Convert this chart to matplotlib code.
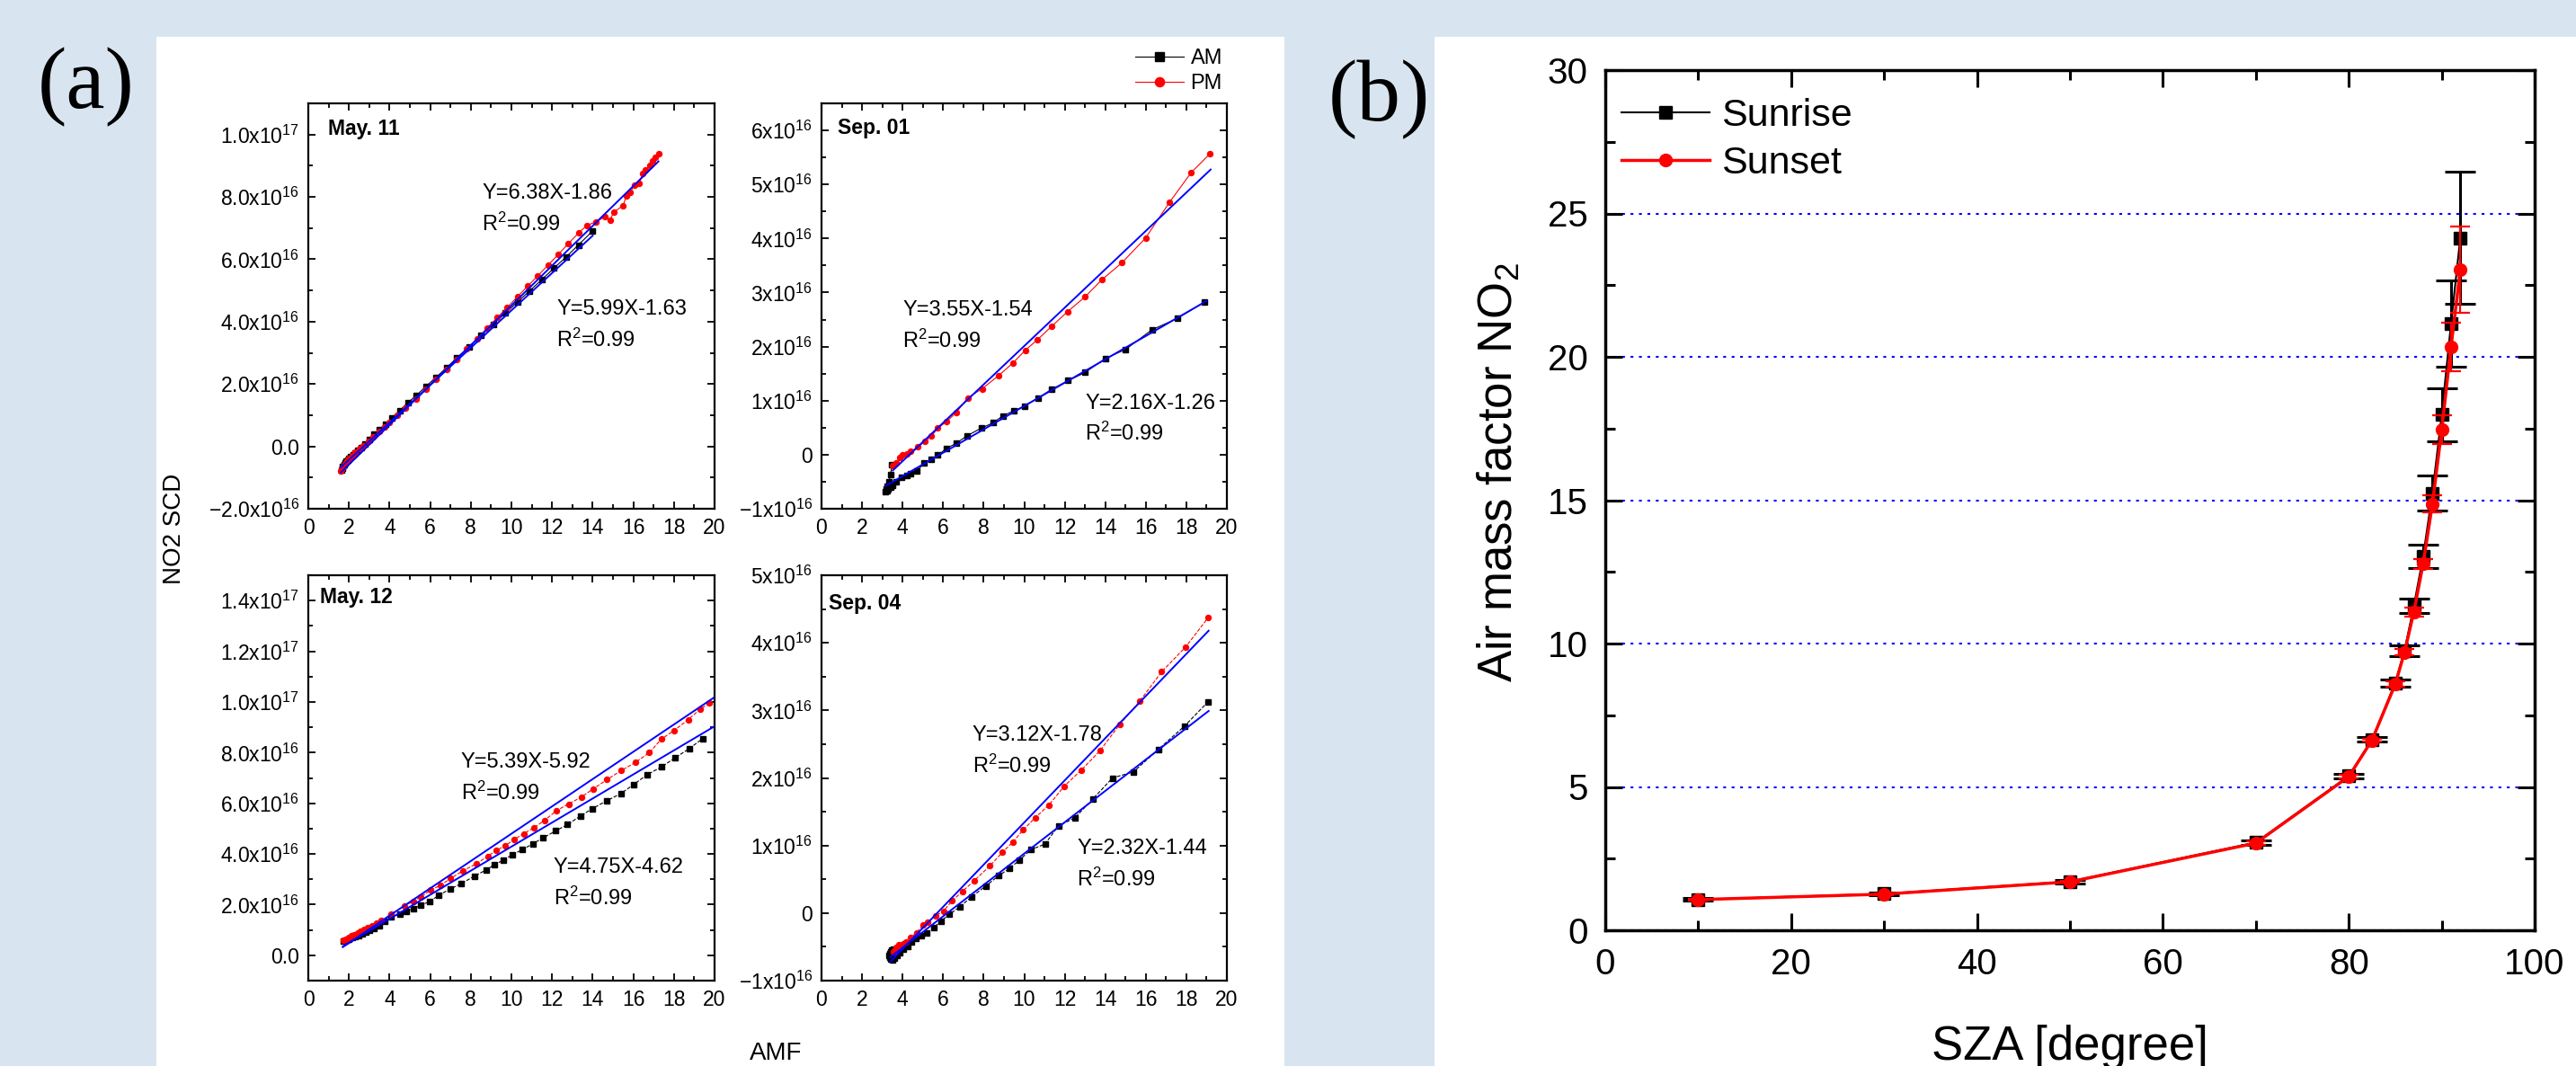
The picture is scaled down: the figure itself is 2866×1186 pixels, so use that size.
import numpy as np
import matplotlib.pyplot as plt
from matplotlib.ticker import MultipleLocator, FuncFormatter
from matplotlib.patches import Rectangle

plt.rcParams['font.family'] = ['Liberation Sans', 'DejaVu Sans']
plt.rcParams['mathtext.fontset'] = 'custom'
plt.rcParams['mathtext.rm'] = 'Liberation Sans'
plt.rcParams['mathtext.it'] = 'Liberation Sans:italic'
plt.rcParams['mathtext.bf'] = 'Liberation Sans:bold'

# ---- (a) NO2 SCD vs AMF, slant columns in units of 1e16 molec/cm2 ----
am_x_may11 = [1.62, 1.66, 1.70, 1.75, 1.80, 1.86, 1.93, 2.00, 2.10, 2.20, 2.32, 2.45, 2.60,
              2.80, 3.00, 3.25, 3.50, 3.80, 4.10, 4.50, 4.90, 5.30, 5.80, 6.30, 6.80, 7.30,
              7.90, 8.50, 9.10, 9.70, 10.30, 10.90, 11.50, 12.10, 12.70, 13.30, 14.00]
am_y_may11 = [-0.76, -0.70, -0.64, -0.58, -0.53, -0.48, -0.43, -0.38, -0.32, -0.26, -0.20,
              -0.13, -0.05, 0.07, 0.22, 0.38, 0.55, 0.72, 0.91, 1.15, 1.40, 1.62, 1.93, 2.22,
              2.52, 2.83, 3.19, 3.55, 3.91, 4.27, 4.63, 4.99, 5.35, 5.72, 6.08, 6.46, 6.91]
pm_x_may11 = [1.60, 1.65, 1.72, 1.80, 1.90, 2.00, 2.15, 2.30, 2.50, 2.70, 2.95, 3.20, 3.50,
              3.75, 4.00, 4.40, 4.80, 5.30, 5.80, 6.30, 6.80, 7.30, 7.80, 8.30, 8.80, 9.30,
              9.80, 10.30, 10.80, 11.30, 11.80, 12.30, 12.80, 13.30, 13.70, 14.15, 14.60,
              14.85, 15.05, 15.50, 15.65, 15.85, 16.05, 16.30, 16.45, 16.60, 16.80, 16.95,
              17.10, 17.24]
pm_y_may11 = [-0.80, -0.72, -0.64, -0.56, -0.47, -0.39, -0.29, -0.19, -0.08, 0.02, 0.17,
              0.32, 0.48, 0.62, 0.76, 1.00, 1.24, 1.52, 1.84, 2.14, 2.46, 2.79, 3.12, 3.45,
              3.79, 4.13, 4.46, 4.80, 5.14, 5.47, 5.81, 6.15, 6.50, 6.84, 7.08, 7.20, 7.36,
              7.26, 7.52, 7.72, 8.02, 8.14, 8.38, 8.44, 8.75, 8.88, 9.00, 9.16, 9.28, 9.38]

am_x_sep01 = [3.47, 3.41, 3.32, 3.24, 3.18, 3.16, 3.22, 3.30, 3.40, 3.52, 3.70, 3.96, 4.20,
              4.41, 4.70, 5.07, 5.41, 5.74, 6.18, 6.65, 7.18, 7.88, 8.47, 8.95, 9.48, 10.02,
              10.69, 11.35, 12.17, 13.00, 14.00, 15.01, 16.30, 17.55, 18.87]
am_y_sep01 = [-0.19, -0.37, -0.50, -0.58, -0.64, -0.68, -0.66, -0.63, -0.60, -0.56, -0.50,
              -0.42, -0.38, -0.35, -0.30, -0.16, -0.09, -0.01, 0.12, 0.21, 0.35, 0.49, 0.59,
              0.72, 0.81, 0.90, 1.05, 1.21, 1.37, 1.52, 1.78, 1.95, 2.31, 2.52, 2.82]
pm_x_sep01 = [3.52, 3.69, 3.84, 4.00, 4.21, 4.40, 4.74, 5.10, 5.41, 5.74, 6.16, 6.65, 7.21,
              7.92, 8.73, 9.45, 10.05, 10.66, 11.34, 12.15, 13.00, 13.84, 14.82, 15.99,
              17.17, 18.24, 19.17]
pm_y_sep01 = [-0.20, -0.16, -0.06, 0.00, 0.02, 0.06, 0.14, 0.24, 0.34, 0.49, 0.61, 0.78,
              1.05, 1.22, 1.46, 1.70, 1.93, 2.13, 2.37, 2.65, 2.92, 3.24, 3.55, 4.01, 4.67,
              5.22, 5.57]

am_x_may12 = [1.73, 1.85, 2.00, 2.15, 2.30, 2.49, 2.65, 2.83, 3.00, 3.25, 3.50, 3.78, 4.06,
              4.52, 4.81, 5.18, 5.53, 5.99, 6.43, 6.97, 7.53, 8.19, 8.78, 9.17, 9.59, 10.05,
              10.54, 11.07, 11.57, 12.18, 12.76, 13.40, 13.99, 14.67, 15.38, 16.02, 16.70,
              17.38, 18.05, 18.76, 19.41]
am_y_may12 = [0.57, 0.60, 0.64, 0.69, 0.73, 0.79, 0.84, 0.91, 0.97, 1.07, 1.18, 1.33, 1.51,
              1.62, 1.74, 1.84, 1.97, 2.13, 2.37, 2.61, 2.83, 3.13, 3.38, 3.58, 3.75, 3.97,
              4.17, 4.41, 4.64, 4.91, 5.16, 5.50, 5.79, 6.09, 6.38, 6.74, 7.14, 7.43, 7.79,
              8.16, 8.55]
pm_x_may12 = [1.73, 1.85, 1.98, 2.12, 2.27, 2.42, 2.58, 2.75, 2.93, 3.12, 3.35, 3.59, 4.06,
              4.74, 5.16, 5.53, 6.01, 6.50, 7.00, 7.60, 8.29, 8.83, 9.26, 9.68, 10.14, 10.60,
              11.12, 11.62, 12.22, 12.81, 13.43, 14.03, 14.70, 15.40, 16.10, 16.79, 17.38,
              18.02, 18.70, 19.27, 19.75]
pm_y_may12 = [0.59, 0.64, 0.70, 0.76, 0.82, 0.88, 0.95, 1.02, 1.09, 1.17, 1.26, 1.36, 1.62,
              1.95, 2.13, 2.30, 2.57, 2.76, 3.03, 3.33, 3.62, 3.91, 4.14, 4.32, 4.57, 4.80,
              5.04, 5.32, 5.71, 5.97, 6.24, 6.57, 6.93, 7.29, 7.61, 8.00, 8.53, 8.88, 9.30,
              9.70, 9.96]

am_x_sep04 = [3.56, 3.48, 3.40, 3.35, 3.33, 3.36, 3.42, 3.50, 3.60, 3.72, 3.86, 4.05, 4.25,
              4.44, 4.66, 4.92, 5.20, 5.54, 5.88, 6.31, 6.81, 7.41, 8.10, 8.73, 9.27, 9.75,
              10.34, 11.02, 11.69, 12.50, 13.39, 14.36, 15.39, 16.61, 17.92, 19.08]
am_y_sep04 = [-0.53, -0.55, -0.57, -0.60, -0.63, -0.66, -0.68, -0.69, -0.67, -0.63, -0.59,
              -0.54, -0.49, -0.43, -0.38, -0.33, -0.29, -0.22, -0.12, -0.02, 0.09, 0.24,
              0.40, 0.55, 0.66, 0.78, 0.94, 1.02, 1.29, 1.41, 1.69, 2.00, 2.09, 2.42, 2.77,
              3.13]
pm_x_sep04 = [3.55, 3.60, 3.68, 3.81, 4.02, 4.19, 4.41, 4.69, 5.00, 5.25, 5.63, 6.02, 6.44,
              6.95, 7.54, 8.31, 8.93, 9.44, 9.95, 10.54, 11.22, 11.98, 12.80, 13.73, 14.71,
              15.71, 16.78, 17.97, 19.07]
pm_y_sep04 = [-0.58, -0.56, -0.51, -0.47, -0.45, -0.43, -0.36, -0.29, -0.18, -0.13, -0.04,
              0.03, 0.18, 0.32, 0.48, 0.70, 0.90, 1.05, 1.23, 1.41, 1.60, 1.88, 2.11, 2.40,
              2.79, 3.14, 3.57, 3.94, 4.37]

# linear fits Y = slope*X + intercept (absolute units) and the AMF range they cover
day_names = ['May. 11', 'Sep. 01', 'May. 12', 'Sep. 04']
am_slope = [5.99e15, 2.16e15, 4.75e15, 2.32e15]
am_icept = [-1.63e16, -1.26e16, -4.62e15, -1.44e16]
am_range = [(1.60, 14.0), (3.16, 19.0), (1.70, 20.0), (3.40, 19.1)]
pm_slope = [6.38e15, 3.55e15, 5.39e15, 3.12e15]
pm_icept = [-1.86e16, -1.54e16, -5.92e15, -1.78e16]
pm_range = [(1.60, 17.24), (3.52, 19.2), (1.70, 20.0), (3.40, 19.1)]
am_eq = ['Y=5.99X-1.63', 'Y=2.16X-1.26', 'Y=4.75X-4.62', 'Y=2.32X-1.44']
pm_eq = ['Y=6.38X-1.86', 'Y=3.55X-1.54', 'Y=5.39X-5.92', 'Y=3.12X-1.78']
r2_text = r'R$^2$=0.99'

# ---- (b) NO2 air mass factor vs solar zenith angle ----
sza = [10, 30, 50, 70, 80, 82.5, 85, 86, 87, 88, 89, 90, 91, 92]
amf_sunrise = [1.07, 1.27, 1.70, 3.06, 5.38, 6.65, 8.63, 9.75, 11.31, 13.04, 15.25, 17.98,
               21.15, 24.15]
err_sunrise = [0.05, 0.05, 0.06, 0.08, 0.08, 0.08, 0.12, 0.18, 0.25, 0.40, 0.60, 0.93,
               1.50, 2.30]
amf_sunset = [1.07, 1.26, 1.69, 3.04, 5.36, 6.63, 8.58, 9.70, 11.10, 12.78, 14.87, 17.46,
              20.34, 23.04]
err_sunset = [0.03, 0.03, 0.04, 0.05, 0.05, 0.06, 0.10, 0.12, 0.15, 0.18, 0.30, 0.50,
              0.85, 1.50]

W, H = 2866, 1186
fig = plt.figure(figsize=(W / 100, H / 100), dpi=100)
fig.patch.set_facecolor('#d8e5f0')
for x0, x1 in [(174, 1429), (1596, W)]:
    fig.add_artist(Rectangle((x0 / W, 0), (x1 - x0) / W, (H - 41) / H,
                             transform=fig.transFigure, facecolor='white',
                             edgecolor='none', zorder=-1))


def px_axes(l, t, r, b):
    return fig.add_axes([l / W, 1 - b / H, (r - l) / W, (b - t) / H])


def sci_fmt(digits):
    def fmt(v, pos):
        if abs(v) < 1e10:
            return '0.0' if digits else '0'
        e = int(np.floor(np.log10(abs(v)) + 1e-9))
        m = v / 10 ** e
        return r'$\mathregular{%.*fx10^{%d}}$' % (digits, m, e)
    return fmt


boxes = [(343, 115, 795, 566), (914, 115, 1365, 566),
         (343, 640, 795, 1091), (914, 640, 1365, 1091)]
ylims = [(-2e16, 1.1e17), (-1e16, 6.5e16), (-1e16, 1.5e17), (-1e16, 5e16)]
ymajor = [2e16, 1e16, 2e16, 1e16]
yminor = [1e16, 0.5e16, 1e16, 0.5e16]
ydigits = [1, 0, 1, 0]
ystyle = ['-', '-', '--', '--']
name_pos = [(0.049, 0.936), (0.040, 0.940), (0.029, 0.945), (0.018, 0.931)]
pm_eq_pos = [(0.427, 0.778), (0.200, 0.490), (0.376, 0.538), (0.372, 0.605)]
am_eq_pos = [(0.611, 0.492), (0.650, 0.260), (0.603, 0.279), (0.630, 0.325)]

am_xs = [am_x_may11, am_x_sep01, am_x_may12, am_x_sep04]
am_ys = [am_y_may11, am_y_sep01, am_y_may12, am_y_sep04]
pm_xs = [pm_x_may11, pm_x_sep01, pm_x_may12, pm_x_sep04]
pm_ys = [pm_y_may11, pm_y_sep01, pm_y_may12, pm_y_sep04]

handles = []
for i in range(4):
    ax = px_axes(*boxes[i])
    h_am, = ax.plot(am_xs[i], np.array(am_ys[i]) * 1e16, color='black', lw=0.8,
                    ls=ystyle[i], marker='s', ms=4, label='AM')
    h_pm, = ax.plot(pm_xs[i], np.array(pm_ys[i]) * 1e16, color='red', lw=0.8,
                    ls=ystyle[i], marker='o', ms=4.3, label='PM')
    for slope, icept, (lo, hi) in [(am_slope[i], am_icept[i], am_range[i]),
                                   (pm_slope[i], pm_icept[i], pm_range[i])]:
        xx = np.array([lo, hi])
        ax.plot(xx, slope * xx + icept, color='#0000ff', lw=1.4, zorder=3)
    if i == 0:
        handles = [h_am, h_pm]

    ax.set_xlim(0, 20)
    ax.set_ylim(*ylims[i])
    ax.xaxis.set_major_locator(MultipleLocator(2))
    ax.xaxis.set_minor_locator(MultipleLocator(1))
    ax.yaxis.set_major_locator(MultipleLocator(ymajor[i]))
    ax.yaxis.set_minor_locator(MultipleLocator(yminor[i]))
    ax.yaxis.set_major_formatter(FuncFormatter(sci_fmt(ydigits[i])))
    ax.tick_params(which='both', direction='in', top=True, right=True, width=1.3,
                   labelsize=16.5, pad=7)
    ax.tick_params(which='major', length=6)
    ax.tick_params(which='minor', length=3.5)
    for sp in ax.spines.values():
        sp.set_linewidth(1.6)

    ax.text(*name_pos[i], day_names[i], transform=ax.transAxes, fontsize=16.5,
            fontweight='bold', va='center')
    for (px, py), eq in [(pm_eq_pos[i], pm_eq[i]), (am_eq_pos[i], am_eq[i])]:
        ax.text(px, py, eq, transform=ax.transAxes, fontsize=17, va='center')
        ax.text(px, py - 0.075, r2_text, transform=ax.transAxes, fontsize=17,
                va='center')

fig.legend(handles, ['AM', 'PM'], loc='upper right', bbox_to_anchor=(1360 / W, 1 - 54 / H),
           frameon=False, fontsize=17, handlelength=2.3, handletextpad=0.3,
           labelspacing=0.25, borderpad=0, borderaxespad=0, markerscale=1.7)

fig.text(194 / W, 1 - 588 / H, 'NO2 SCD', rotation=90, fontsize=20, ha='center',
         va='center')
fig.text(863 / W, 1 - 1185 / H, 'AMF', fontsize=20, ha='center', va='bottom')
fig.text(96 / W, 1 - 97 / H, '(a)', family='Liberation Serif', fontsize=70,
         ha='center', va='center')
fig.text(1534 / W, 1 - 111 / H, '(b)', family='Liberation Serif', fontsize=70,
         ha='center', va='center')

# ---- panel (b) ----
axb = px_axes(1786, 78, 2820, 1035)
axb.errorbar(sza, amf_sunrise, yerr=err_sunrise, fmt='none', ecolor='black',
             elinewidth=2.2, capsize=12.5, capthick=2.2, zorder=3)
axb.plot(sza, amf_sunrise, color='black', lw=1.5, marker='s', ms=9.5, label='Sunrise',
         zorder=4)
axb.errorbar(sza, amf_sunset, yerr=err_sunset, fmt='none', ecolor='red',
             elinewidth=1.6, capsize=8, capthick=1.6, zorder=5)
axb.plot(sza, amf_sunset, color='red', lw=2.5, marker='o', ms=10, label='Sunset',
         zorder=6)

axb.set_xlim(0, 100)
axb.set_ylim(0, 30)
axb.xaxis.set_major_locator(MultipleLocator(20))
axb.xaxis.set_minor_locator(MultipleLocator(10))
axb.yaxis.set_major_locator(MultipleLocator(5))
axb.yaxis.set_minor_locator(MultipleLocator(2.5))
axb.set_axisbelow(True)
axb.yaxis.grid(True, which='major', color='#0000ff', lw=1.5, ls=(0, (1.5, 3)))
axb.tick_params(which='both', direction='in', top=True, right=True, width=2.2,
                labelsize=29, pad=14)
axb.tick_params(which='major', length=14)
axb.tick_params(which='minor', length=8)
for sp in axb.spines.values():
    sp.set_linewidth(2.5)
axb.set_xlabel('SZA [degree]', fontsize=38, labelpad=34)
axb.set_ylabel(r'Air mass factor NO$_2$', fontsize=38)
axb.yaxis.set_label_coords(-0.089, 0.532)
axb.legend(loc='upper left', bbox_to_anchor=(0.0174, 0.968), frameon=False, fontsize=31,
           handlelength=2.28, handletextpad=0.3, labelspacing=0.32, borderpad=0,
           borderaxespad=0)

fig.savefig('out.png', dpi=100, facecolor=fig.get_facecolor())
